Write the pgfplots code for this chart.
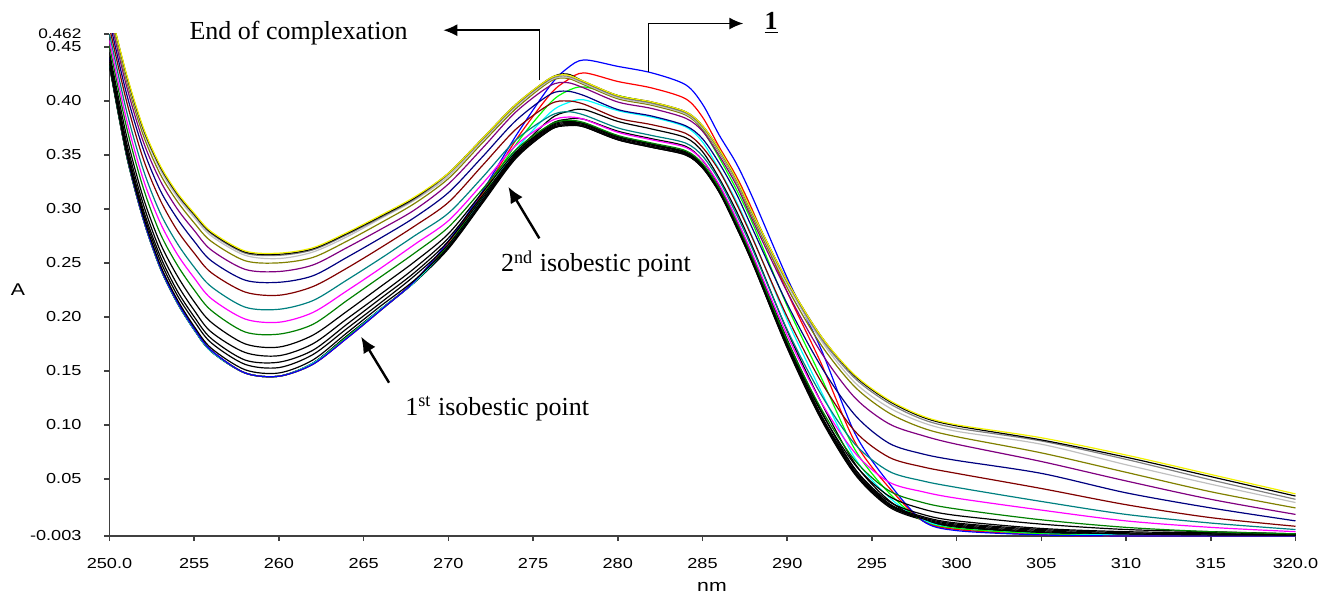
\documentclass[border=0pt]{standalone}
\usepackage{pgfplots}
\pgfplotsset{compat=1.18}
\usepackage{pgfplotstable}
\usepackage{graphicx}
\usepackage{fontspec}
\setmainfont{Liberation Serif}
\newfontfamily\arial{Liberation Sans}
\usetikzlibrary{arrows.meta}
\newcommand{\tkl}[1]{{\arial\fontsize{7.25}{8}\selectfont\scalebox{1.25}[1]{#1}}}
\newcommand{\tks}[1]{{\arial\fontsize{6.9}{7}\selectfont\scalebox{1.25}[1]{#1}}}
\definecolor{cBlue}{HTML}{0000FF}
\definecolor{cRed}{HTML}{FF0000}
\definecolor{cLime}{HTML}{00FF00}
\definecolor{cCyan}{HTML}{00FFFF}
\definecolor{cGreen}{HTML}{008000}
\definecolor{cMag}{HTML}{FF00FF}
\definecolor{cTeal}{HTML}{008080}
\definecolor{cMaroon}{HTML}{800000}
\definecolor{cNavy}{HTML}{000080}
\definecolor{cPurple}{HTML}{800080}
\definecolor{cOlive}{HTML}{808000}
\definecolor{cSilver}{HTML}{C0C0C0}
\definecolor{cGray}{HTML}{808080}
\definecolor{cYellow}{HTML}{F2F200}
\definecolor{cAxis}{HTML}{404040}

\pgfplotstableread{
x   P     K2    K1    C     G     R     B     a     b     c     d     e     g     m     tl    br    nv    pu    ol    lg    gy    bf    Y
250 0.432 0.433 0.434 0.435 0.437 0.438 0.440 0.434 0.436 0.438 0.441 0.445 0.451 0.456 0.462 0.468 0.474 0.479 0.483 0.485 0.486 0.487 0.487
251 0.350 0.350 0.350 0.351 0.351 0.352 0.352 0.352 0.355 0.358 0.362 0.368 0.376 0.383 0.391 0.400 0.407 0.414 0.419 0.422 0.424 0.424 0.425
252 0.290 0.290 0.290 0.290 0.291 0.291 0.291 0.293 0.296 0.299 0.304 0.310 0.319 0.327 0.336 0.346 0.355 0.362 0.368 0.372 0.373 0.374 0.375
253 0.245 0.245 0.245 0.245 0.246 0.246 0.246 0.248 0.252 0.256 0.261 0.268 0.277 0.287 0.296 0.308 0.317 0.326 0.332 0.336 0.338 0.339 0.340
254 0.213 0.213 0.213 0.213 0.214 0.214 0.214 0.216 0.220 0.224 0.230 0.238 0.248 0.258 0.268 0.280 0.291 0.300 0.307 0.311 0.313 0.314 0.315
255 0.188 0.188 0.188 0.188 0.189 0.189 0.189 0.191 0.196 0.200 0.206 0.214 0.225 0.236 0.246 0.259 0.270 0.280 0.287 0.292 0.294 0.295 0.296
256 0.168 0.168 0.168 0.168 0.169 0.169 0.169 0.171 0.176 0.180 0.186 0.195 0.206 0.217 0.228 0.241 0.252 0.262 0.270 0.275 0.277 0.278 0.279
258 0.148 0.148 0.148 0.148 0.148 0.148 0.148 0.151 0.156 0.160 0.167 0.175 0.186 0.198 0.209 0.223 0.234 0.244 0.252 0.257 0.259 0.260 0.261
260 0.145 0.145 0.145 0.145 0.145 0.145 0.145 0.148 0.153 0.158 0.164 0.172 0.184 0.195 0.207 0.220 0.232 0.242 0.250 0.254 0.257 0.258 0.259
262 0.157 0.157 0.157 0.157 0.156 0.156 0.156 0.160 0.165 0.169 0.175 0.183 0.193 0.204 0.215 0.228 0.238 0.248 0.255 0.260 0.262 0.263 0.264
264 0.182 0.182 0.182 0.181 0.181 0.180 0.180 0.185 0.189 0.193 0.198 0.205 0.215 0.224 0.234 0.245 0.255 0.264 0.270 0.274 0.276 0.277 0.278
266 0.207 0.207 0.207 0.207 0.206 0.206 0.206 0.210 0.213 0.217 0.221 0.228 0.237 0.245 0.254 0.264 0.273 0.281 0.287 0.291 0.292 0.293 0.294
268 0.232 0.232 0.232 0.232 0.233 0.233 0.233 0.234 0.238 0.241 0.245 0.251 0.259 0.267 0.275 0.284 0.292 0.299 0.305 0.308 0.309 0.310 0.311
270 0.263 0.264 0.265 0.266 0.267 0.269 0.270 0.265 0.267 0.270 0.273 0.277 0.283 0.289 0.296 0.306 0.315 0.323 0.328 0.330 0.332 0.333 0.333
272 0.305 0.306 0.308 0.309 0.312 0.314 0.316 0.306 0.308 0.310 0.312 0.315 0.318 0.323 0.329 0.340 0.348 0.356 0.361 0.363 0.364 0.365 0.365
274 0.347 0.350 0.352 0.355 0.360 0.364 0.368 0.348 0.349 0.350 0.351 0.353 0.355 0.359 0.364 0.374 0.382 0.390 0.393 0.395 0.396 0.397 0.397
276 0.373 0.378 0.383 0.389 0.398 0.406 0.414 0.373 0.374 0.375 0.376 0.377 0.378 0.381 0.386 0.397 0.406 0.414 0.418 0.419 0.420 0.421 0.421
277 0.377 0.383 0.390 0.398 0.409 0.419 0.430 0.378 0.378 0.379 0.380 0.381 0.382 0.385 0.390 0.400 0.409 0.417 0.421 0.422 0.423 0.425 0.424
278 0.376 0.383 0.392 0.401 0.413 0.426 0.438 0.376 0.377 0.378 0.379 0.379 0.380 0.383 0.387 0.397 0.405 0.412 0.415 0.416 0.417 0.418 0.418
280 0.364 0.372 0.381 0.391 0.405 0.418 0.432 0.364 0.365 0.366 0.367 0.367 0.368 0.371 0.375 0.384 0.392 0.399 0.402 0.403 0.404 0.405 0.405
282 0.357 0.365 0.374 0.385 0.398 0.412 0.426 0.357 0.358 0.359 0.360 0.360 0.361 0.364 0.368 0.378 0.386 0.393 0.396 0.397 0.398 0.399 0.399
284 0.350 0.358 0.366 0.376 0.389 0.402 0.415 0.350 0.351 0.352 0.352 0.353 0.354 0.357 0.361 0.370 0.377 0.384 0.387 0.388 0.389 0.390 0.390
285 0.338 0.345 0.353 0.362 0.373 0.385 0.397 0.338 0.339 0.340 0.340 0.341 0.342 0.345 0.349 0.357 0.365 0.372 0.374 0.375 0.376 0.377 0.377
286 0.315 0.321 0.328 0.336 0.347 0.357 0.368 0.315 0.316 0.317 0.317 0.318 0.319 0.322 0.326 0.335 0.342 0.349 0.352 0.353 0.354 0.355 0.355
287 0.283 0.290 0.298 0.307 0.318 0.330 0.342 0.283 0.284 0.285 0.286 0.287 0.288 0.291 0.295 0.305 0.314 0.322 0.325 0.326 0.327 0.328 0.328
288 0.248 0.255 0.263 0.272 0.285 0.297 0.309 0.248 0.249 0.250 0.251 0.252 0.253 0.256 0.261 0.271 0.280 0.288 0.291 0.293 0.294 0.295 0.295
290 0.171 0.179 0.187 0.197 0.210 0.223 0.236 0.172 0.172 0.173 0.175 0.176 0.178 0.183 0.188 0.200 0.212 0.223 0.227 0.230 0.232 0.233 0.233
292 0.105 0.113 0.121 0.131 0.144 0.157 0.170 0.106 0.107 0.108 0.109 0.112 0.115 0.121 0.128 0.140 0.154 0.167 0.174 0.178 0.180 0.182 0.182
294 0.054 0.059 0.064 0.069 0.077 0.084 0.092 0.055 0.056 0.057 0.059 0.063 0.067 0.074 0.082 0.094 0.109 0.125 0.135 0.139 0.143 0.145 0.146
296 0.024 0.027 0.030 0.033 0.037 0.042 0.046 0.025 0.026 0.027 0.029 0.034 0.039 0.047 0.057 0.070 0.083 0.101 0.111 0.116 0.120 0.122 0.123
298 0.012 0.012 0.012 0.012 0.011 0.011 0.011 0.013 0.014 0.015 0.017 0.022 0.028 0.038 0.048 0.061 0.073 0.090 0.097 0.102 0.105 0.107 0.108
300 0.006 0.006 0.005 0.004 0.004 0.003 0.002 0.007 0.008 0.009 0.011 0.016 0.022 0.032 0.042 0.055 0.067 0.082 0.089 0.094 0.097 0.099 0.100
305 0.000 0.000 0.000 -0.001 -0.001 -0.002 -0.002 0.001 0.002 0.003 0.004 0.008 0.012 0.021 0.029 0.041 0.055 0.066 0.074 0.082 0.085 0.086 0.088
310 -0.002 -0.002 -0.002 -0.002 -0.003 -0.003 -0.003 -0.001 -0.001 0.000 0.001 0.003 0.005 0.011 0.017 0.026 0.037 0.048 0.056 0.063 0.068 0.070 0.072
315 -0.002 -0.002 -0.002 -0.002 -0.003 -0.003 -0.003 -0.002 -0.001 -0.001 0.000 0.001 0.001 0.005 0.009 0.014 0.023 0.031 0.038 0.045 0.049 0.052 0.054
320 -0.002 -0.002 -0.002 -0.002 -0.003 -0.003 -0.003 -0.002 -0.002 -0.002 -0.001 -0.001 -0.001 0.001 0.003 0.006 0.011 0.017 0.023 0.028 0.031 0.034 0.036
}\spectra

\begin{document}
\begin{tikzpicture}
\begin{axis}[
  scale only axis,
  width=593pt, height=251pt,
  xmin=250, xmax=320, ymin=-0.003, ymax=0.462,
  axis x line*=bottom, axis y line*=left,
  axis line style={-, draw=cAxis, line width=0.9pt},
  tick align=outside,
  major tick length=2.5pt,
  tick style={draw=cAxis, line width=0.8pt},
  xtick={250,255,260,265,270,275,280,285,290,295,300,305,310,315,320},
  xticklabels={\tkl{250.0},\tkl{255},\tkl{260},\tkl{265},\tkl{270},\tkl{275},\tkl{280},\tkl{285},\tkl{290},\tkl{295},\tkl{300},\tkl{305},\tkl{310},\tkl{315},\tkl{320.0}},
  ytick={-0.003,0.05,0.10,0.15,0.20,0.25,0.30,0.35,0.40,0.45,0.462},
  yticklabels={\tkl{-0.003},\tkl{0.05},\tkl{0.10},\tkl{0.15},\tkl{0.20},\tkl{0.25},\tkl{0.30},\tkl{0.35},\tkl{0.40},\tkl{0.45},\tks{0.462}},
  xticklabel style={yshift=-5pt},
  yticklabel style={xshift=-8pt},
  clip mode=individual,
  every axis plot/.append style={line width=0.6pt, no markers, smooth, tension=0.5},
]
\addplot[black] table[x=x,y=P]{\spectra};
\addplot[black] table[x=x,y=K2]{\spectra};
\addplot[black] table[x=x,y=K1]{\spectra};
\addplot[cCyan] table[x=x,y=C]{\spectra};
\addplot[cLime] table[x=x,y=G]{\spectra};
\addplot[cRed] table[x=x,y=R]{\spectra};
\addplot[cBlue] table[x=x,y=B]{\spectra};
\addplot[black] table[x=x,y=a]{\spectra};
\addplot[black] table[x=x,y=b]{\spectra};
\addplot[black] table[x=x,y=c]{\spectra};
\addplot[black] table[x=x,y=d]{\spectra};
\addplot[black] table[x=x,y=e]{\spectra};
\addplot[cGreen] table[x=x,y=g]{\spectra};
\addplot[cMag] table[x=x,y=m]{\spectra};
\addplot[cTeal] table[x=x,y=tl]{\spectra};
\addplot[cMaroon] table[x=x,y=br]{\spectra};
\addplot[cNavy] table[x=x,y=nv]{\spectra};
\addplot[cPurple] table[x=x,y=pu]{\spectra};
\addplot[cOlive] table[x=x,y=ol]{\spectra};
\addplot[cSilver] table[x=x,y=lg]{\spectra};
\addplot[cGray] table[x=x,y=gy]{\spectra};
\addplot[black] table[x=x,y=bf]{\spectra};
\addplot[cYellow] table[x=x,y=Y]{\spectra};

% axis titles
\node[font=\arial\fontsize{8.5}{9}\selectfont] at (axis cs:244.6,0.2248) {\scalebox{1.25}[1]{A}};
\node[font=\arial\fontsize{8.5}{9}\selectfont] at (axis cs:285.56,-0.0500) {\scalebox{1.25}[1]{nm}};

% annotations
\node[anchor=base west, inner sep=0, font=\fontsize{13}{15}\selectfont] at (axis cs:254.7,0.457) {End of complexation};
\draw[line width=0.8pt, -{Latex[length=7pt,width=6pt]}] (axis cs:275.37,0.419) -- (axis cs:275.37,0.4655) -- (axis cs:269.7,0.4655);
\draw[line width=0.8pt, -{Latex[length=7pt,width=6pt]}] (axis cs:281.81,0.427) -- (axis cs:281.81,0.4717) -- (axis cs:287.41,0.4717);
\node[anchor=base, inner sep=0, font=\bfseries\fontsize{13}{15}\selectfont] at (axis cs:289.05,0.4658) {\underline{1}};
\node[anchor=base west, inner sep=0, font=\fontsize{13}{15}\selectfont] at (axis cs:273.09,0.2417) {2\textsuperscript{nd} isobestic point};
\draw[line width=1.2pt, -{Latex[length=8pt,width=7pt]}] (axis cs:275.37,0.2727) -- (axis cs:273.54,0.3204);
\node[anchor=base west, inner sep=0, font=\fontsize{13}{15}\selectfont] at (axis cs:267.44,0.109) {1\textsuperscript{st} isobestic point};
\draw[line width=1.2pt, -{Latex[length=8pt,width=7pt]}] (axis cs:266.5,0.139) -- (axis cs:264.85,0.1816);
\end{axis}
\pgfresetboundingbox
\path[use as bounding box] (-54.75pt,-29pt) rectangle (605.25pt,268pt);
\end{tikzpicture}
\end{document}
